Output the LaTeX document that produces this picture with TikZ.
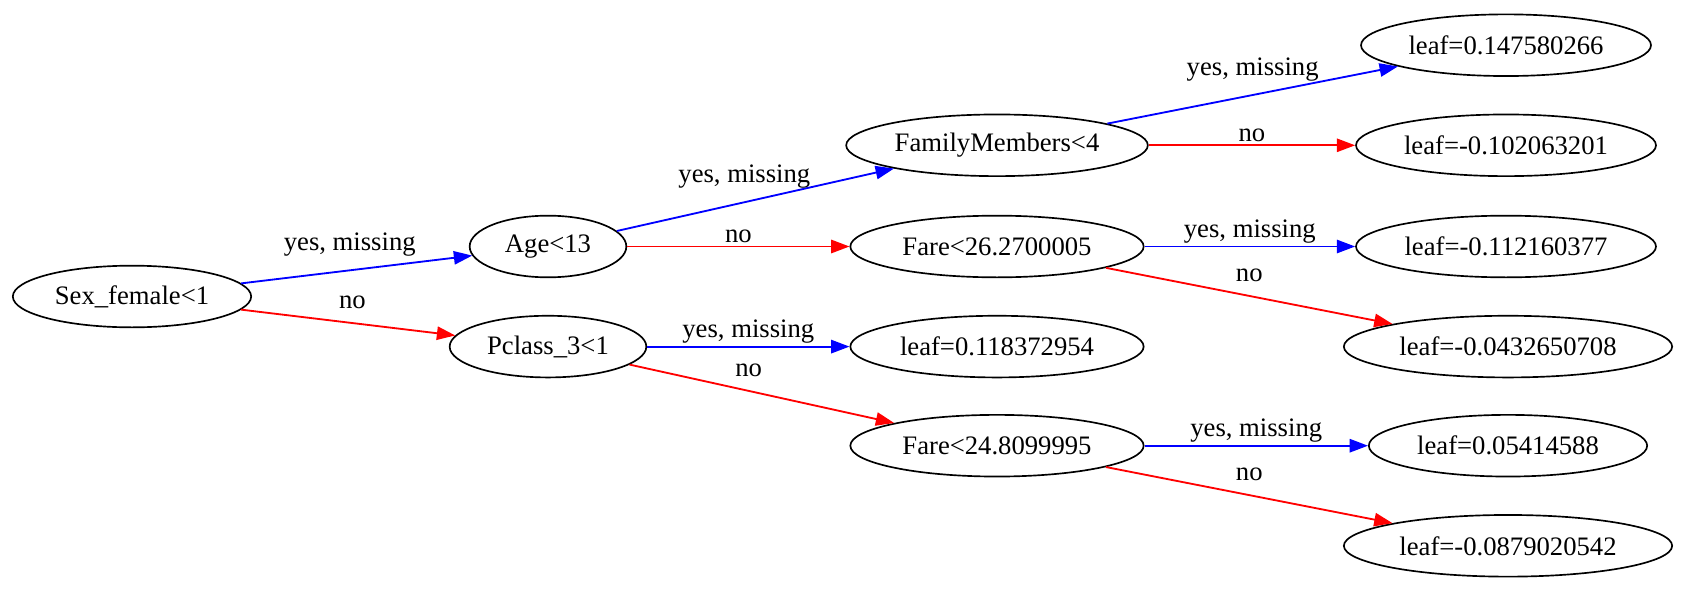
\documentclass[tikz,border=0pt]{standalone}
\usepackage{fontspec}
\setmainfont{Liberation Serif}
\usetikzlibrary{arrows.meta,shapes.geometric}
\begin{document}
\begin{tikzpicture}[x=0.6pt,y=-0.6pt,
  tn/.style={draw, ellipse, line width=1pt, minimum height=37pt, inner sep=0pt,
    font=\fontsize{16}{19}\selectfont},
  yesedge/.style={draw=blue, line width=1.1pt, -{Triangle[length=11pt,width=8pt]}},
  noedge/.style={draw=red, line width=1.1pt, -{Triangle[length=11pt,width=8pt]}},
  slab/.style={midway, above=8pt, inner sep=0pt, font=\fontsize{16}{19}\selectfont},
  hlab/.style={midway, above=1.5pt, inner sep=0pt, font=\fontsize{16}{19}\selectfont}]
\fill[white] (0,0) rectangle (1688,595);
\useasboundingbox (0,0) rectangle (1688,595);
\node[tn, minimum width=143pt] (sex) at (132,296.5) {Sex\_female<1};
\node[tn, minimum width=94pt]  (age) at (548,246.5) {Age<13};
\node[tn, minimum width=118pt] (pc)  at (548,346.6) {Pclass\_3<1};
\node[tn, minimum width=181pt] (fm)  at (997,145.3) {FamilyMembers<4};
\node[tn, minimum width=176pt] (f26) at (997,246.5) {Fare<26.2700005};
\node[tn, minimum width=176pt] (l118) at (997,346.6) {leaf=0.118372954};
\node[tn, minimum width=176pt] (f24) at (997,445.7) {Fare<24.8099995};
\node[tn, minimum width=174pt] (l147) at (1506,45.2) {leaf=0.147580266};
\node[tn, minimum width=180pt] (l102) at (1506,145.3) {leaf=-0.102063201};
\node[tn, minimum width=180pt] (l112) at (1506,246.5) {leaf=-0.112160377};
\node[tn, minimum width=197pt] (l043) at (1508,346.6) {leaf=-0.0432650708};
\node[tn, minimum width=167pt] (l054) at (1508,445.7) {leaf=0.05414588};
\node[tn, minimum width=197pt] (l087) at (1508,545.8) {leaf=-0.0879020542};
\draw[yesedge] (sex) -- node[slab, pos=0.47]{yes, missing} (age);
\draw[noedge]  (sex) -- node[slab, pos=0.52]{no} (pc);
\draw[yesedge] (age) -- node[slab, pos=0.46]{yes, missing} (fm);
\draw[noedge]  (age) -- node[hlab]{no} (f26);
\draw[yesedge] (pc) -- node[hlab]{yes, missing} (l118);
\draw[noedge]  (pc) -- node[slab, pos=0.45]{no} (f24);
\draw[yesedge] (fm) -- node[slab]{yes, missing} (l147);
\draw[noedge]  (fm) -- node[hlab]{no} (l102);
\draw[yesedge] (f26) -- node[hlab]{yes, missing} (l112);
\draw[noedge]  (f26) -- node[slab]{no} (l043);
\draw[yesedge] (f24) -- node[hlab]{yes, missing} (l054);
\draw[noedge]  (f24) -- node[slab]{no} (l087);
\end{tikzpicture}
\end{document}
